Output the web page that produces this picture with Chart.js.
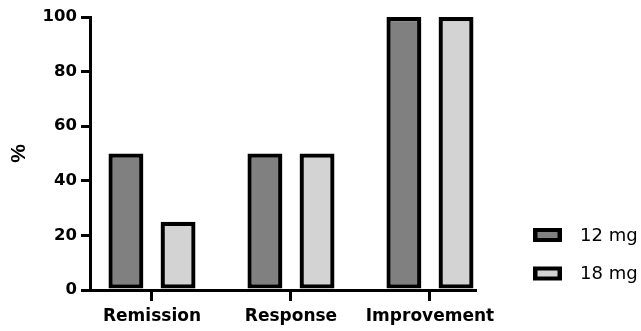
<!DOCTYPE html>
<html><head><meta charset="utf-8">
<script src="https://cdn.jsdelivr.net/npm/chart.js@4"></script>
<style>html,body{margin:0;padding:0;background:#fff;overflow:hidden}</style>
</head><body>
<canvas id="c" width="641" height="331" style="width:641px;height:331px;display:block"></canvas>
<script>
const categories = ['Remission', 'Response', 'Improvement'];
const seriesNames = ['12 mg', '18 mg'];
const values12mg = [50, 50, 100];
const values18mg = [25, 50, 100];
const yTickValues = [0, 20, 40, 60, 80, 100];
const seriesFill = ['#808080', '#d3d3d3'];

const sideLegend = {
  id: 'sideLegend',
  afterDraw(chart) {
    const ctx = chart.ctx;
    const rows = [235, 273.5];
    ctx.save();
    chart.data.datasets.forEach((ds, i) => {
      const cy = rows[i];
      const bx = 533, bw = 29, bh = 14;
      ctx.fillStyle = '#000';
      ctx.fillRect(bx, cy - bh / 2, bw, bh);
      ctx.fillStyle = ds.backgroundColor;
      ctx.fillRect(bx + 4.5, cy - bh / 2 + 4, bw - 9, bh - 8);
      ctx.fillStyle = '#000';
      ctx.font = '18px "DejaVu Sans"';
      ctx.textBaseline = 'middle';
      ctx.textAlign = 'left';
      ctx.fillText(ds.label, 580, cy + 1);
    });
    ctx.restore();
  }
};

new Chart(document.getElementById('c'), {
  type: 'bar',
  data: {
    datasets: [
      { label: seriesNames[0], data: values12mg.map((v, i) => ({ x: i, y: v })), backgroundColor: seriesFill[0] },
      { label: seriesNames[1], data: values18mg.map((v, i) => ({ x: i, y: v })), backgroundColor: seriesFill[1] }
    ]
  },
  options: {
    responsive: false,
    animation: false,
    devicePixelRatio: 1,
    layout: { padding: { top: 17, right: 166, bottom: 0, left: 0 } },
    datasets: {
      bar: {
        borderColor: '#000',
        borderWidth: 4.3,
        borderSkipped: false,
        categoryPercentage: 0.75,
        barPercentage: 0.67
      }
    },
    plugins: { legend: { display: false }, tooltip: { enabled: false } },
    scales: {
      x: {
        type: 'linear',
        offset: false,
        min: -0.446,
        max: 2.324,
        afterBuildTicks: s => { s.ticks = categories.map((c, i) => ({ value: i })); },
        afterFit: s => { s.height = 41; },
        ticks: {
          callback: v => categories[v],
          autoSkip: false,
          maxRotation: 0,
          color: '#000',
          padding: 5,
          font: { family: 'DejaVu Sans', weight: 'bold', size: 17 }
        },
        grid: { offset: false, drawOnChartArea: false, drawTicks: true, tickLength: 11, lineWidth: 3, color: '#000' },
        border: { display: true, width: 3, color: '#000' }
      },
      y: {
        min: 0,
        max: 100,
        afterBuildTicks: s => { s.ticks = yTickValues.map(v => ({ value: v })); },
        afterFit: s => { s.width = 90; },
        ticks: {
          color: '#000',
          padding: 4,
          font: { family: 'DejaVu Sans', weight: 'bold', size: 16.5 }
        },
        grid: { drawOnChartArea: false, drawTicks: true, tickLength: 9, lineWidth: 3, color: '#000' },
        border: { display: true, width: 3, color: '#000' },
        title: {
          display: true,
          text: '%',
          color: '#000',
          padding: { top: 7, bottom: 0 },
          font: { family: 'Liberation Sans', weight: 'bold', size: 21 }
        }
      }
    }
  },
  plugins: [sideLegend]
});
</script>
</body></html>
